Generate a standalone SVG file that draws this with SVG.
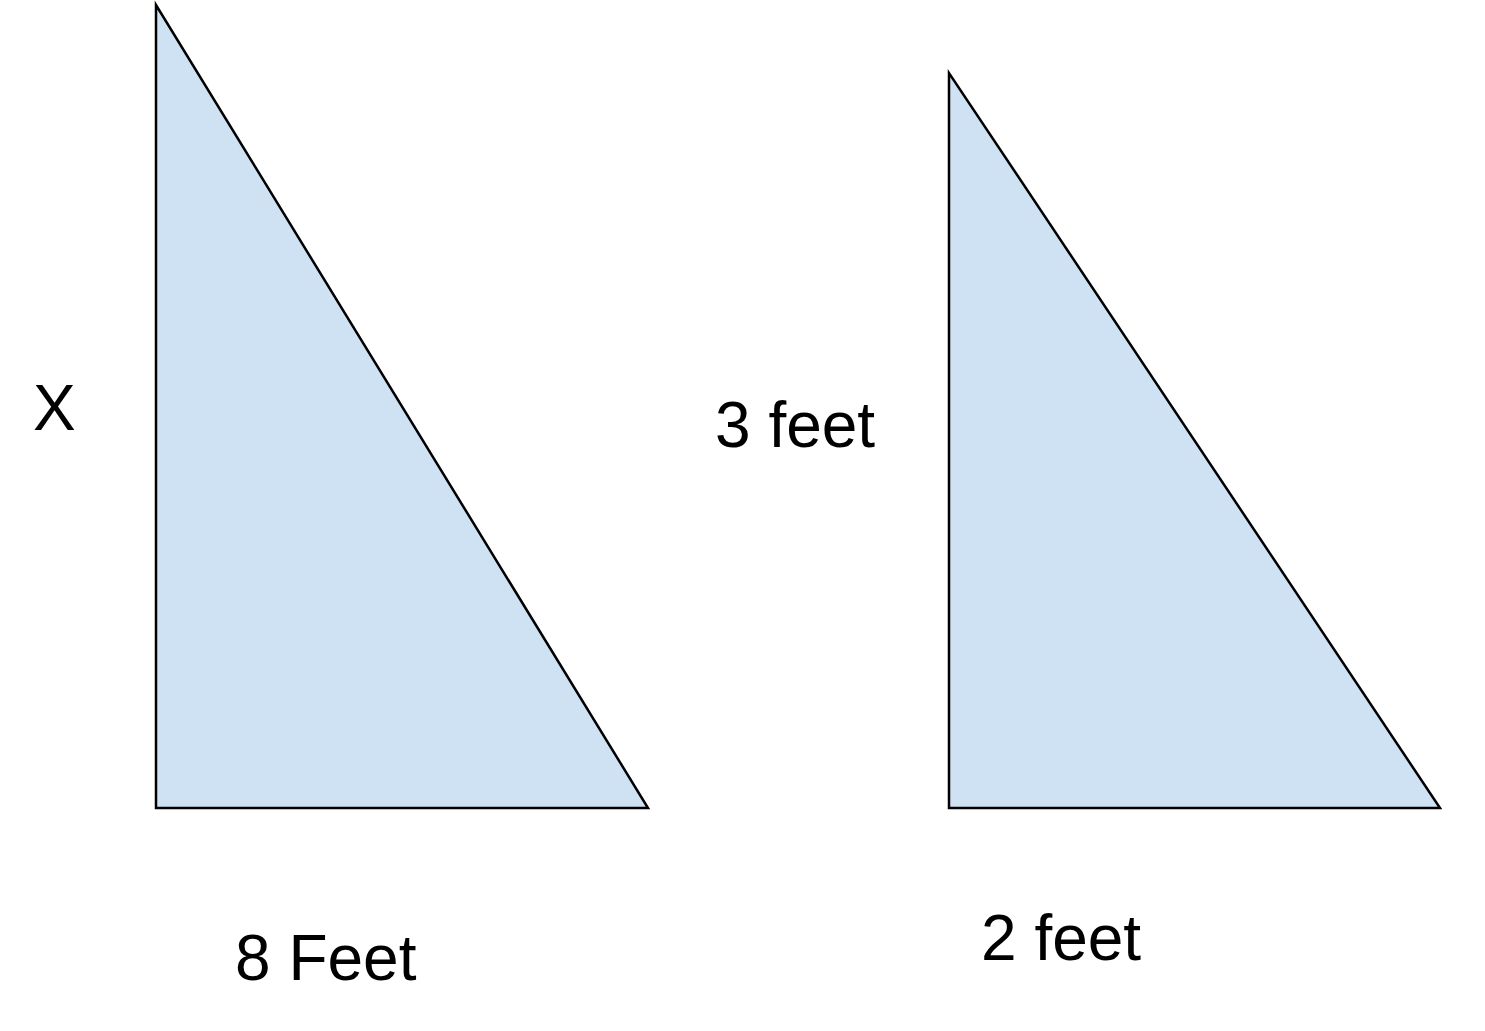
<svg xmlns="http://www.w3.org/2000/svg" width="1485" height="1031" viewBox="0 0 1485 1031">
<style>
.tri{fill:#cfe2f3;stroke:#000;stroke-width:2.5;stroke-linejoin:miter}
.lbl{font-family:"Liberation Sans",Arial,sans-serif;font-size:64px;fill:#000}
</style>
<rect width="1485" height="1031" fill="#fff"/>
<g id="triangle-large"><polygon class="tri" points="156,5 156,808 648,808"/></g>
<g id="triangle-small"><polygon class="tri" points="949,73 949,808 1440,808"/></g>
<g id="connectors"></g>
<g id="label-x"><text class="lbl" x="33" y="430">X</text></g>
<g id="label-3feet"><text class="lbl" x="715" y="447">3 feet</text></g>
<g id="label-8feet"><text class="lbl" x="235" y="980">8 Feet</text></g>
<g id="label-2feet"><text class="lbl" x="981" y="960">2 feet</text></g>
</svg>
